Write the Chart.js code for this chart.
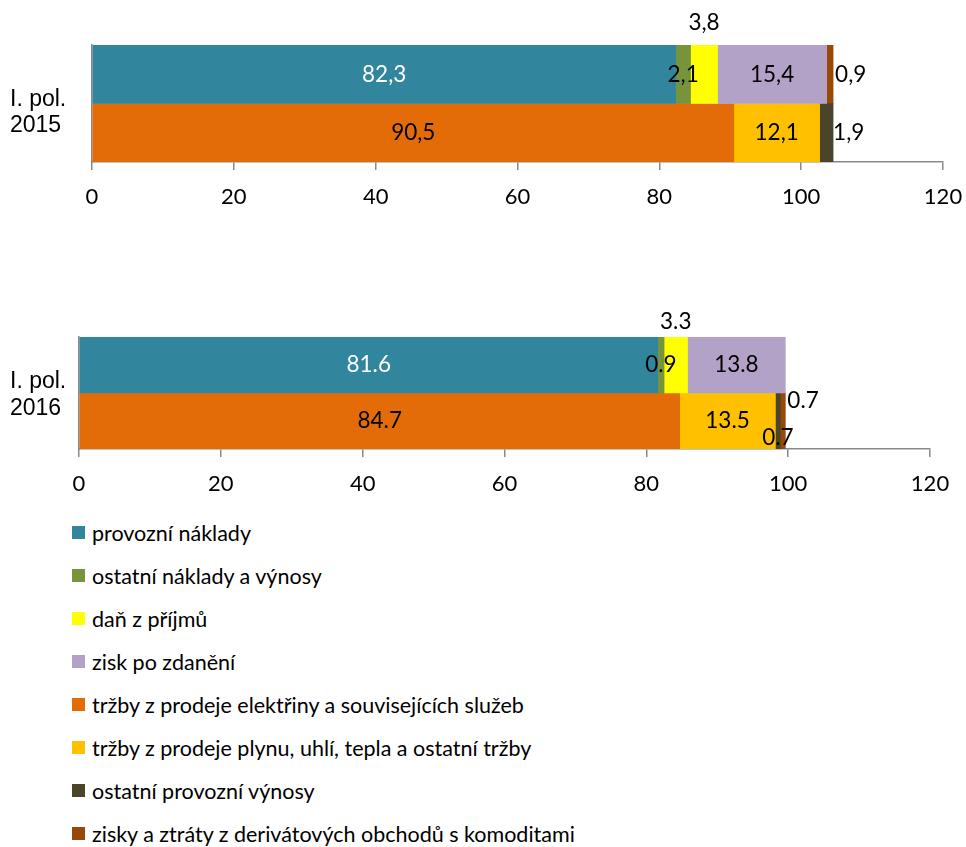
<!DOCTYPE html>
<html>
<head>
<meta charset="utf-8">
<script src="https://cdn.jsdelivr.net/npm/chart.js@4"></script>
<style>
  html, body { margin: 0; padding: 0; background: #fff; }
  body { width: 966px; height: 847px; position: relative; overflow: hidden; }
  #c1wrap { position: absolute; left: 0; top: 0; width: 966px; height: 212px; }
  #c2wrap { position: absolute; left: 0; top: 290px; width: 966px; height: 210px; }
  #legend { position: absolute; left: 72px; top: 511px; font-family: Lato, sans-serif; font-size: 21.5px; color: #000; }
  .li { height: 43px; display: flex; align-items: center; white-space: nowrap; }
  .sw { width: 13px; height: 13px; margin-right: 7px; flex: none; }
</style>
</head>
<body>
<div id="c1wrap"><canvas id="c1"></canvas></div>
<div id="c2wrap"><canvas id="c2"></canvas></div>
<div id="legend"></div>
<script>
// ---- data ----
const seriesNames = [
  "provozní náklady",
  "ostatní náklady a výnosy",
  "daň z příjmů",
  "zisk po zdanění",
  "tržby z prodeje elektřiny a souvisejících služeb",
  "tržby z prodeje plynu, uhlí, tepla a ostatní tržby",
  "ostatní provozní výnosy",
  "zisky a ztráty z derivátových obchodů s komoditami"
];
const seriesColors = ["#31859C", "#77933C", "#FFFF00", "#B3A2C7", "#E36C09", "#FFC000", "#4A452A", "#984807"];
const category2015 = [["I. pol.", "2015"]];
const category2016 = [["I. pol.", "2016"]];
const values2015 = [82.3, 2.1, 3.8, 15.4, 90.5, 12.1, 1.9, 0.9];
const values2016 = [81.6, 0.9, 3.3, 13.8, 84.7, 13.5, 0.7, 0.7];
const stacks2015 = ["costs", "costs", "costs", "costs", "revenues", "revenues", "revenues", "costs"];
const stacks2016 = ["costs", "costs", "costs", "costs", "revenues", "revenues", "revenues", "revenues"];
const xTicks = [0, 20, 40, 60, 80, 100, 120];

// ---- label plugin ----
const valueLabels = {
  id: 'valueLabels',
  afterDatasetsDraw(chart, args, opts) {
    const ctx = chart.ctx;
    ctx.save();
    ctx.font = opts.font;
    chart.data.datasets.forEach((ds, di) => {
      const meta = chart.getDatasetMeta(di);
      meta.data.forEach((bar, i) => {
        const v = ds.data[i];
        if (v == null) return;
        const txt = opts.decimal === ',' ? v.toFixed(1).replace('.', ',') : v.toFixed(1);
        const p = (opts.place && opts.place[di]) || { mode: 'center' };
        const cx = (bar.x + bar.base) / 2;
        let x = cx, y = bar.y, align = 'center';
        if (p.mode === 'above') { y = bar.y - bar.height / 2 - p.dy; }
        else if (p.mode === 'right') { x = Math.max(bar.x, bar.base) + p.dx; align = 'left'; y = bar.y + (p.dy || 0); }
        else if (p.mode === 'offset') { y = bar.y + p.dy; }
        ctx.fillStyle = (opts.colors && opts.colors[di]) || '#000';
        ctx.textAlign = align;
        ctx.textBaseline = 'middle';
        ctx.fillText(txt, x, y);
      });
    });
    ctx.restore();
  }
};

function makeChart(id, cats, values, stacks, cfg) {
  const datasets = seriesNames.map((n, k) => ({
    label: n,
    data: [values[k]],
    stack: stacks[k],
    backgroundColor: seriesColors[k],
    borderWidth: 0,
    categoryPercentage: 1,
    barPercentage: 1
  }));
  return new Chart(document.getElementById(id), {
    type: 'bar',
    data: { labels: cats, datasets },
    options: {
      indexAxis: 'y',
      responsive: true,
      maintainAspectRatio: false,
      animation: false,
      layout: { padding: { left: 10, right: cfg.padRight, top: cfg.padTop, bottom: 0 } },
      plugins: {
        legend: { display: false },
        tooltip: { enabled: false },
        valueLabels: cfg.labels
      },
      scales: {
        x: {
          type: 'linear',
          stacked: true,
          min: 0, max: 120,
          afterBuildTicks: s => { s.ticks = xTicks.map(v => ({ value: v })); },
          afterFit: s => { s.height = cfg.xHeight; s.paddingRight = 0; s.paddingLeft = 0; },
          grid: { drawOnChartArea: false, drawTicks: true, tickLength: 8, color: '#898989', lineWidth: 1.5 },
          border: { color: '#898989', width: 1.5 },
          ticks: { font: { family: 'Lato', size: 22 }, color: '#000', padding: 14, maxRotation: 0 }
        },
        y: {
          stacked: true,
          afterFit: s => { s.width = cfg.yWidth; },
          grid: { display: false },
          border: { color: '#898989', width: 1.5 },
          ticks: { font: { family: 'Liberation Sans', size: 23, lineHeight: 1.15 }, color: '#000', crossAlign: 'far', labelOffset: cfg.labelOffset, padding: 0 }
        }
      }
    },
    plugins: [valueLabels]
  });
}

makeChart('c1', category2015, values2015, stacks2015, {
  padRight: 23, padTop: 45, xHeight: 50, yWidth: 82, labelOffset: 9,
  labels: {
    font: '22.5px Lato', decimal: ',',
    colors: { 0: '#fff' },
    place: { 2: { mode: 'above', dy: 22 }, 7: { mode: 'right', dx: 2 }, 6: { mode: 'right', dx: 0 } }
  }
});

makeChart('c2', category2016, values2016, stacks2016, {
  padRight: 36, padTop: 47, xHeight: 51, yWidth: 69, labelOffset: 2,
  labels: {
    font: '22.5px Lato', decimal: '.',
    colors: { 0: '#fff' },
    place: { 2: { mode: 'above', dy: 15 }, 6: { mode: 'offset', dy: 17 }, 7: { mode: 'right', dx: 2, dy: -20 } }
  }
});

// ---- legend ----
const lg = document.getElementById('legend');
seriesNames.forEach((n, k) => {
  const row = document.createElement('div');
  row.className = 'li';
  const sw = document.createElement('span');
  sw.className = 'sw';
  sw.style.background = seriesColors[k];
  const t = document.createElement('span');
  t.textContent = n;
  row.appendChild(sw); row.appendChild(t);
  lg.appendChild(row);
});
</script>
</body>
</html>
